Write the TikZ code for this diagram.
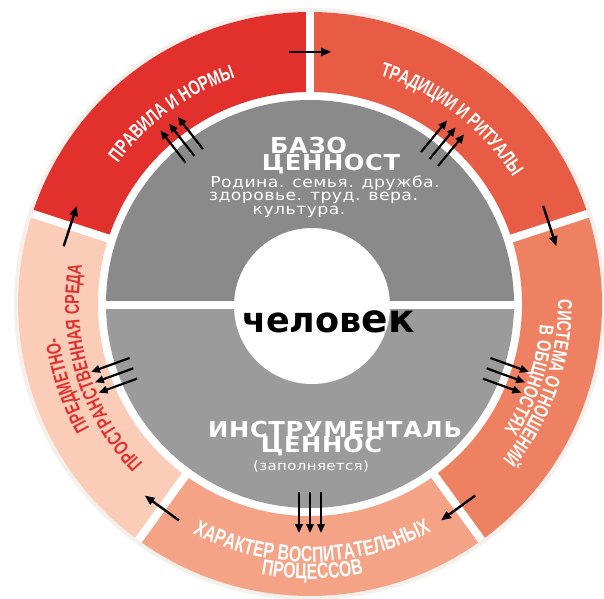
\documentclass[tikz,border=0pt]{standalone}
\usepackage{fontspec}
\usetikzlibrary{arrows.meta,decorations.text,calc}
\newfontfamily\ringfont[FakeStretch=0.72]{Liberation Sans Bold}
\newfontfamily\discfont[FakeStretch=1.15,LetterSpace=3]{DejaVu Sans}
\newfontfamily\discbold[FakeStretch=1.1,LetterSpace=3]{DejaVu Sans Bold}
\newfontfamily\manfont{DejaVu Sans Bold}
\definecolor{segRules}{HTML}{E2302D}
\definecolor{segTrad}{HTML}{E85B44}
\definecolor{segRel}{HTML}{EF8163}
\definecolor{segProc}{HTML}{F4A386}
\definecolor{segSpace}{HTML}{FBCDB9}
\definecolor{discTop}{HTML}{8A8A8A}
\definecolor{discBot}{HTML}{9B9B9B}
\definecolor{ringEdge}{HTML}{F4F0EB}

\begin{document}
\begin{tikzpicture}[x=1pt,y=1pt,
  ring arrow/.style={line width=2.4pt,-{Triangle[length=10pt,width=8pt]}},
  ray arrow/.style={line width=2.2pt,-{Triangle[length=9pt,width=7.5pt]}},
  disc text/.style={text=white,inner sep=0pt},
  ring text/.style={decorate,decoration={text along path,text align=center,
    text color=#1}},
  ring text/.default=white]
\useasboundingbox (-310,-294) rectangle (294,304);

% outer ring
\draw[ringEdge,line width=4pt] (0,0) circle (294);
\foreach \a/\c in {90/segRules,18/segTrad,-54/segRel,-126/segProc,162/segSpace}
  \fill[\c] (\a:212) arc[start angle=\a,delta angle=72,radius=212]
    -- (\a+72:292) arc[start angle=\a+72,delta angle=-72,radius=292] -- cycle;
\foreach \a in {90,18,-54,-126,162}
  \draw[white,line width=8pt] (\a:205) -- (\a:292);

% grey disc
\fill[discTop] (0:204) arc[start angle=0,end angle=180,radius=204] -- cycle;
\fill[discBot] (180:204) arc[start angle=180,end angle=360,radius=204] -- cycle;
\fill[white] (-206,-5) rectangle (206,3);
\fill[white] (2,-2) circle (78);

\begin{scope}
\clip (0,0) circle (204);
\node[disc text,anchor=base,font=\discbold\fontsize{22}{22}\selectfont]
  (base1) at (-1.5,151) {БАЗО};
\node[disc text,anchor=base,font=\discbold\fontsize{22}{22}\selectfont]
  (base2) at (21,134) {ЦЕННОСТ};
\node[disc text,anchor=base,font=\discfont\fontsize{15}{15}\selectfont]
  (list1) at (15,117) {Родина. семья. дружба.};
\node[disc text,anchor=base,font=\discfont\fontsize{15}{15}\selectfont]
  (list2) at (3.5,104) {здоровье. труд. вера.};
\node[disc text,anchor=base,font=\discfont\fontsize{15}{15}\selectfont]
  (list3) at (-11,90) {культура.};
\node[disc text,anchor=base west,font=\discbold\fontsize{22}{22}\selectfont]
  (tool1) at (-102,-133) {ИНСТРУМЕНТАЛЬ};
\node[disc text,anchor=base,font=\discbold\fontsize{22}{22}\selectfont]
  (tool2) at (11.5,-148) {ЦЕННОС};
\node[disc text,anchor=base,font=\discfont\fontsize{13}{13}\selectfont]
  (note) at (1,-166) {(заполняется)};
\end{scope}

\node[inner sep=0pt,anchor=base west,font=\manfont\fontsize{35}{35}\selectfont]
  (man) at (-68,-28) {челов{\fontsize{39}{39}\selectfont ек}};

% ring labels
\path[ring text,decoration={text={|\ringfont\fontsize{20}{20}\selectfont|ПРАВИЛА И НОРМЫ}}]
  (151:238) arc[start angle=151,end angle=101,radius=238];
\path[ring text,decoration={text={|\ringfont\fontsize{20}{20}\selectfont|ТРАДИЦИИ И РИТУАЛЫ}}]
  (80:239) arc[start angle=80,end angle=25,radius=239];
\path[ring text,decoration={text={|\ringfont\fontsize{20}{20}\selectfont|СИСТЕМА ОТНОШЕНИЙ}}]
  (10:248) arc[start angle=10,end angle=-48,radius=248];
\path[ring text,decoration={text={|\ringfont\fontsize{20}{20}\selectfont|В ОБЩНОСТЯХ}}]
  (10:231) arc[start angle=10,end angle=-48,radius=231];
\path[ring text,decoration={text={|\ringfont\fontsize{22}{22}\selectfont|ХАРАКТЕР ВОСПИТАТЕЛЬНЫХ}}]
  (-125:258) arc[start angle=-125,end angle=-54,radius=258];
\path[ring text,decoration={text={|\ringfont\fontsize{22}{22}\selectfont|ПРОЦЕССОВ}}]
  (-125:275) arc[start angle=-125,end angle=-54,radius=275];
\path[ring text=segRules,decoration={text={|\ringfont\fontsize{20}{20}\selectfont|ПРЕДМЕТНО-}}]
  (230:253) arc[start angle=230,end angle=167,radius=253];
\path[ring text=segRules,decoration={text={|\ringfont\fontsize{20}{20}\selectfont|ПРОСТРАНСТВЕННАЯ СРЕДА}}]
  (233:231) arc[start angle=233,end angle=161,radius=231];

% arrows
\foreach \a in {90,18,-54,-126,162}
  \draw[ring arrow] (\a+4.8:253) -- (\a-4.8:253);
\foreach \a in {128,50.5,-20,-90,200}
  \foreach \o in {-11,0,11}
    \draw[ray arrow] ($(\a:188)+(\a+90:\o)$) -- ($(\a:229)+(\a+90:\o)$);
\end{tikzpicture}
\end{document}
